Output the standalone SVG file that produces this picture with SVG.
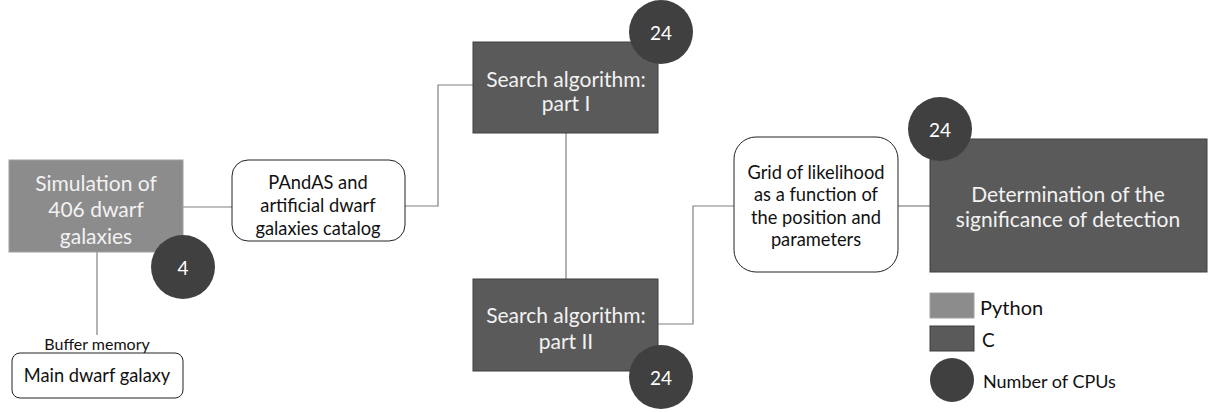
<svg xmlns="http://www.w3.org/2000/svg" width="1211" height="412" viewBox="0 0 1211 412">
<style>
text{font-family:Lato,"Open Sans","Liberation Sans",sans-serif;text-anchor:middle;dominant-baseline:central}
.py{fill:#8c8c8c;stroke:#a0a0a0;stroke-width:1}
.c{fill:#5a5a5a;stroke:#3f3f3f;stroke-width:1}
.cpu{fill:#404040}
.rb{fill:#fff;stroke:#222;stroke-width:1}
.conn{fill:none;stroke:#808080;stroke-width:1.2}
.w{fill:#f2f2f2;font-size:21px}
.b{fill:#111;font-size:18.3px}
.n{fill:#fff;font-size:19px}
.lg{fill:#111;font-size:19px;text-anchor:start}
</style>
<g id="connectors">
<path class="conn" d="M183,207 H232"/>
<path class="conn" d="M97,252 V335"/>
<path class="conn" d="M405,206 H438 V85 H473"/>
<path class="conn" d="M566,133 V279"/>
<path class="conn" d="M658,324 H693 V206 H734"/>
<path class="conn" d="M898,206 H930"/>
</g>
<g id="sim">
<rect class="py" x="9" y="160" width="174" height="92"/>
<text class="w" x="96" y="182">Simulation of</text>
<text class="w" x="96" y="208">406 dwarf</text>
<text class="w" x="96" y="235">galaxies</text>
</g>
<g id="cpu-sim">
<circle class="cpu" cx="183" cy="267" r="32"/>
<text class="n" x="183" y="267">4</text>
</g>
<g id="buffer">
<text class="b" x="97" y="343" style="font-size:16px">Buffer memory</text>
</g>
<g id="main">
<rect class="rb" x="12" y="353" width="171" height="45" rx="8"/>
<text class="b" x="97" y="375">Main dwarf galaxy</text>
</g>
<g id="pandas">
<rect class="rb" x="232" y="160" width="173" height="81" rx="16"/>
<text class="b" x="318" y="182">PAndAS and</text>
<text class="b" x="318" y="205">artificial dwarf</text>
<text class="b" x="318" y="228">galaxies catalog</text>
</g>
<g id="search1">
<rect class="c" x="473" y="42" width="185" height="91"/>
<text class="w" x="566" y="78">Search algorithm:</text>
<text class="w" x="566" y="102">part I</text>
</g>
<g id="cpu-s1">
<circle class="cpu" cx="661" cy="32" r="32"/>
<text class="n" x="661" y="32">24</text>
</g>
<g id="search2">
<rect class="c" x="473" y="279" width="185" height="92"/>
<text class="w" x="566" y="314">Search algorithm:</text>
<text class="w" x="566" y="340">part II</text>
</g>
<g id="cpu-s2">
<circle class="cpu" cx="661" cy="377" r="32"/>
<text class="n" x="661" y="377">24</text>
</g>
<g id="grid">
<rect class="rb" x="734" y="137" width="164" height="135" rx="22"/>
<text class="b" x="816" y="172">Grid of likelihood</text>
<text class="b" x="816" y="194">as a function of</text>
<text class="b" x="816" y="217">the position and</text>
<text class="b" x="816" y="239">parameters</text>
</g>
<g id="det">
<rect class="c" x="930" y="139" width="277" height="133"/>
<text class="w" x="1068" y="193">Determination of the</text>
<text class="w" x="1068" y="218">significance of detection</text>
</g>
<g id="cpu-det">
<circle class="cpu" cx="940" cy="129" r="32"/>
<text class="n" x="940" y="129">24</text>
</g>
<g id="legend">
<rect class="py" x="930" y="293" width="44" height="25"/>
<text class="lg" x="980" y="307" style="font-size:20px">Python</text>
<rect class="c" x="930" y="326" width="44" height="25"/>
<text class="lg" x="982" y="339">C</text>
<circle class="cpu" cx="952" cy="380" r="22"/>
<text class="lg" x="983" y="381" style="font-size:18px">Number of CPUs</text>
</g>
</svg>
